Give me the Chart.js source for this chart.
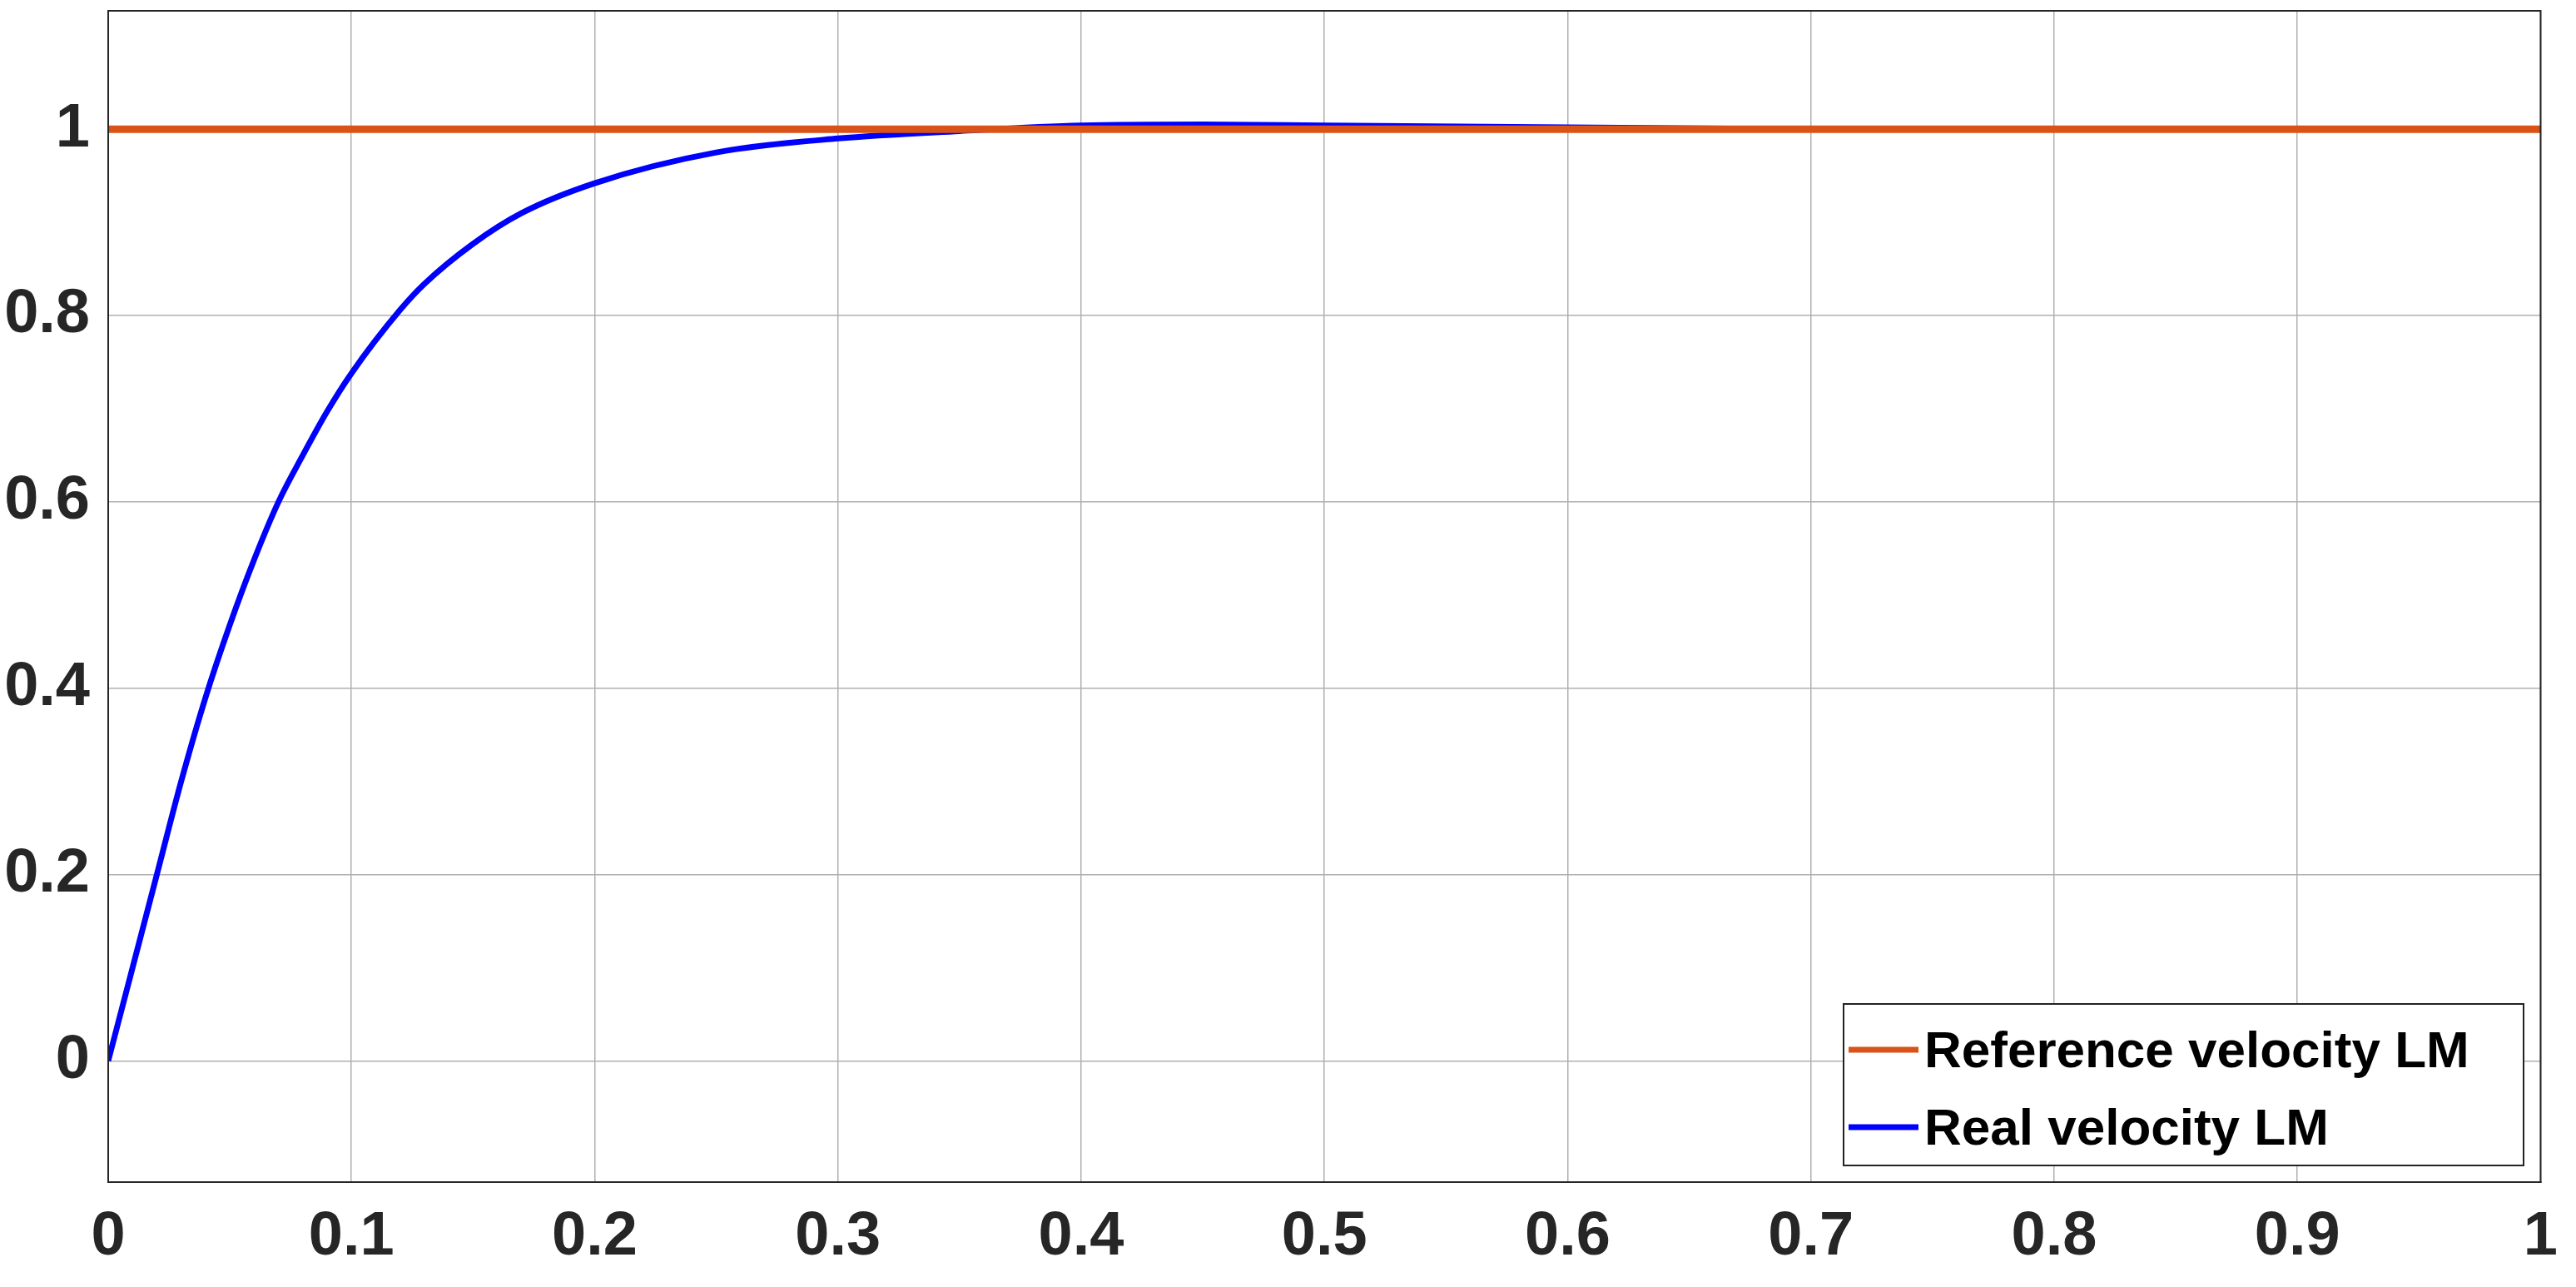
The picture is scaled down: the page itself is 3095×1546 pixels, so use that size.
<!DOCTYPE html>
<html><head><meta charset="utf-8">
<script src="https://cdn.jsdelivr.net/npm/chart.js@4"></script>
<style>html,body{margin:0;padding:0;background:#fff}#w{width:3095px;height:1546px}</style>
</head><body><div id="w"><canvas id="c"></canvas></div>
<script>
const timeX = [0,0.01,0.02,0.03,0.04,0.05,0.06,0.07,0.08,0.09,0.1,0.12,0.13,0.15,0.17,0.2,0.25,0.3,0.35,0.4,0.45,0.5,0.6,0.7,0.8,0.9,1.0];
const realVelocity = [0,0.1,0.2,0.3,0.39,0.468,0.538,0.6,0.65,0.697,0.738,0.806,0.834,0.877,0.91,0.942,0.975,0.99,0.998,1.004,1.005,1.004,1.002,1.0,1.0,1.0,1.0];
const refX = [0,1];
const refVelocity = [1,1];
const yTicks = [0,0.2,0.4,0.6,0.8,1];
const labels = ["Reference velocity LM","Real velocity LM"];
const FONT = "'Liberation Sans Narrow','Liberation Sans',sans-serif";

const legendPlugin = {
  id:'inLegend',
  afterDraw(chart){
    const ctx=chart.ctx;
    const x0=2215, y0=1206, x1=3032, y1=1400;
    ctx.save();
    ctx.fillStyle='#fff'; ctx.fillRect(x0,y0,x1-x0,y1-y0);
    ctx.strokeStyle='#222'; ctx.lineWidth=2; ctx.strokeRect(x0,y0,x1-x0,y1-y0);
    ctx.font="bold 62px "+FONT; ctx.textBaseline='middle'; ctx.fillStyle='#000';
    chart.data.datasets.forEach((d,i)=>{
      const y=y0+55+i*93;
      ctx.strokeStyle=d.borderColor; ctx.lineWidth=7;
      ctx.beginPath(); ctx.moveTo(x0+6,y); ctx.lineTo(x0+90,y); ctx.stroke();
      ctx.fillText(d.label,x0+97,y+4);
    });
    ctx.restore();
  }
};

new Chart(document.getElementById('c'),{
  type:'line',
  data:{datasets:[
    {label:labels[0],data:refX.map((x,i)=>({x,y:refVelocity[i]})),borderColor:'#D95319',borderWidth:9,pointRadius:0},
    {label:labels[1],data:timeX.map((x,i)=>({x,y:realVelocity[i]})),borderColor:'#0000FF',borderWidth:7,pointRadius:0,cubicInterpolationMode:'monotone'}
  ]},
  options:{
    responsive:true,maintainAspectRatio:false,animation:false,devicePixelRatio:1,
    layout:{padding:{left:0,right:22,top:13,bottom:0}},
    plugins:{legend:{display:false},tooltip:{enabled:false}},
    scales:{
      x:{type:'linear',min:0,max:1,
        afterBuildTicks(s){s.ticks=[0,0.1,0.2,0.3,0.4,0.5,0.6,0.7,0.8,0.9,1].map(v=>({value:v}));},
        ticks:{color:'#262626',font:{family:FONT,size:74,weight:'bold'},maxRotation:0,padding:22,callback:v=>String(+v.toFixed(1))},
        grid:{color:'#b0b0b0',lineWidth:1.5,tickLength:0},border:{color:'#262626',width:2},
        afterFit(s){s.height=126;}},
      y:{type:'linear',min:-0.13,max:1.127,
        afterBuildTicks(s){s.ticks=yTicks.map(v=>({value:v}));},
        ticks:{color:'#262626',font:{family:FONT,size:74,weight:'bold'},padding:22,callback:v=>String(+v.toFixed(1))},
        grid:{color:'#b0b0b0',lineWidth:1.5,tickLength:0},border:{color:'#262626',width:2},
        afterFit(s){s.width=130;s.paddingTop=0;s.paddingBottom=0;}}
    }
  },
  plugins:[legendPlugin,{id:'frame',afterDatasetsDraw(c){const a=c.chartArea,x=c.ctx;x.save();x.strokeStyle='#262626';x.lineWidth=2;x.strokeRect(a.left,a.top,a.right-a.left,a.bottom-a.top);x.restore();}}]
});
</script></body></html>
